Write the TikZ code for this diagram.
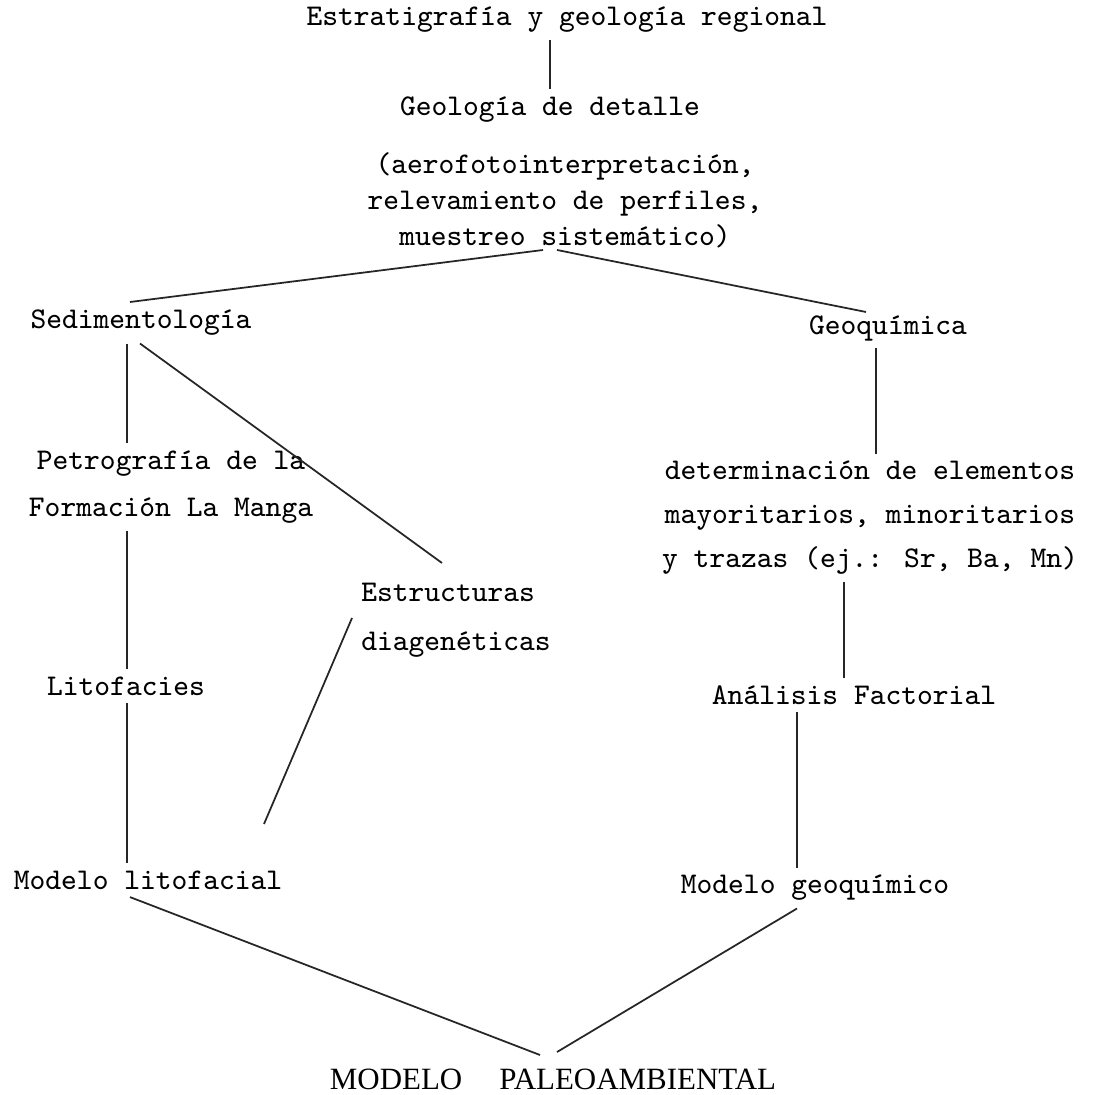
\documentclass[tikz,border=0pt]{standalone}
\usepackage{fontspec}
\newfontfamily\capsfont{Liberation Serif}
\usetikzlibrary{calc}

\begin{document}
\begin{tikzpicture}[x=0.01cm,y=-0.01cm,
    lbl/.style={inner sep=2pt,font=\ttfamily\fontsize{8.55}{13.3}\selectfont,align=center},
    link/.style={line width=0.5pt,black!85}]
    \useasboundingbox (0,0) rectangle (1095,1095);

    % Top
    \node[lbl] (estrat) at (567,20) {Estratigrafía y geología regional};
    \node[lbl] (geodet) at (550,110) {Geología de detalle};
    \node[lbl,font=\ttfamily\fontsize{8.55}{10.2}\selectfont] (aero) at (565,200)
        {(aerofotointerpretación,\\relevamiento de perfiles,\\muestreo sistemático)};
    \draw[link] (estrat.south -| geodet.north) -- (geodet.north);

    % Branches
    \coordinate (aeroL) at (543,250);
    \coordinate (aeroR) at (557,250);
    \node[lbl] (sedim) at (141,323) {Sedimentología};
    \node[lbl] (geoq) at (888,328) {Geoquímica};
    \coordinate (sedimT) at (130,302);
    \coordinate (geoqT) at (866,312);
    \draw[link] (aeroL) -- (sedimT);
    \draw[link] (aeroR) -- (geoqT);

    % Sedimentology side
    \node[lbl] (petro) at (171,487) {Petrografía de la\\Formación La Manga};
    \node[lbl] (lito) at (126,686) {Litofacies};
    \node[lbl] (modlit) at (148,880) {Modelo litofacial};
    \node[lbl,align=left,font=\ttfamily\fontsize{8.55}{13.9}\selectfont] (estruc) at (456,620)
        {Estructuras\\diagenéticas};
    \coordinate (estrucT) at (442,563);
    \coordinate (estrucL) at (352,618);
    \coordinate (modlitR) at (264,824);
    \draw[link] (sedim.south -| 127,0) -- (petro.north -| 127,0);
    \draw[link] (petro.south -| 127,0) -- (lito.north -| 127,0);
    \draw[link] (lito.south -| 127,0) -- (modlit.north -| 127,0);
    \draw[link] ($(sedim.south)+(-1,0)$) -- (estrucT);
    \draw[link] (estrucL) -- (modlitR);

    % Geochemistry side
    \node[lbl,font=\ttfamily\fontsize{8.55}{12.5}\selectfont] (deter) at (870,518)
        {determinación de elementos\\mayoritarios, minoritarios\\y trazas (ej.: Sr, Ba, Mn)};
    \node[lbl] (anal) at (854,695) {Análisis Factorial};
    \node[lbl] (modgeo) at (815,888) {Modelo geoquímico};
    \draw[link] (geoq.south -| 876,0) -- (deter.north -| 876,0);
    \draw[link] (deter.south -| 844,0) -- (anal.north -| 844,0);
    \draw[link] (anal.south -| 797,0) -- (modgeo.north -| 797,0);

    % Bottom
    \node[inner sep=2pt,font=\capsfont\fontsize{8.8}{10}\selectfont] (paleo) at (553,1079)
        {MODELO\hspace{1.2em}PALEOAMBIENTAL};
    \coordinate (paleoL) at (540,1055);
    \coordinate (paleoR) at (557,1052);
    \draw[link] ($(modlit.south)+(-18,0)$) -- (paleoL);
    \draw[link] ($(modgeo.south)+(-18,0)$) -- (paleoR);
\end{tikzpicture}
\end{document}
